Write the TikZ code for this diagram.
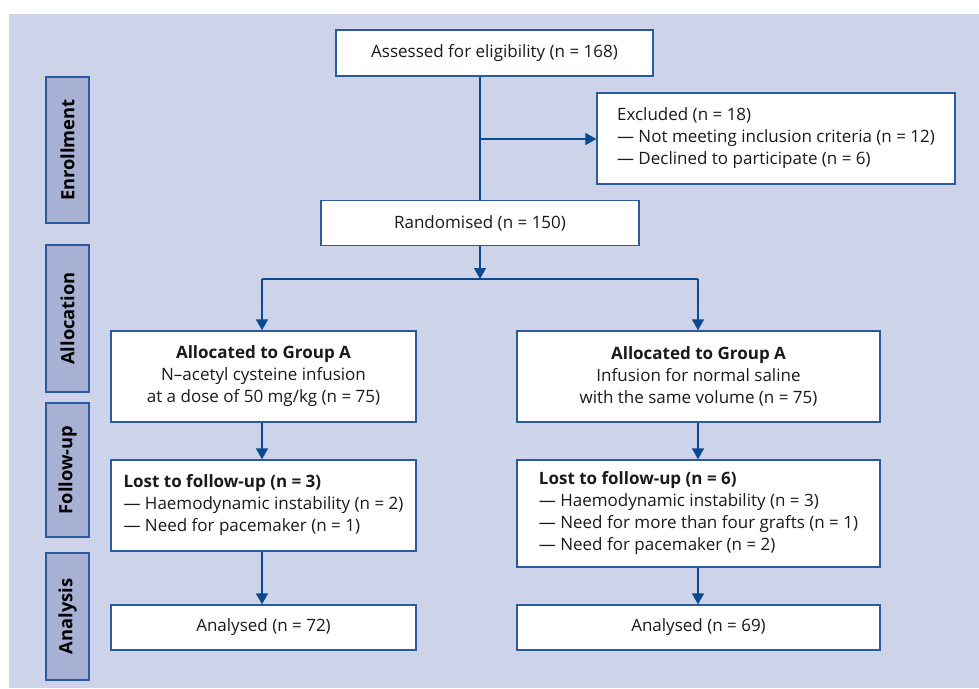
\documentclass[tikz,border=0pt]{standalone}
\usepackage{fontspec}
\setmainfont{Open Sans}
\usetikzlibrary{arrows.meta}
\definecolor{bgc}{HTML}{CDD3E8}
\definecolor{sidec}{HTML}{A8B1D3}
\definecolor{edgec}{HTML}{2B5A9E}
\definecolor{arrc}{HTML}{0B4A91}
\definecolor{txtc}{HTML}{1A1A1A}
\tikzset{
  box/.style={draw=edgec, line width=1.3pt, fill=white, text=txtc, inner sep=0pt,
    font=\fontsize{17}{22}\selectfont, align=center},
  lbox/.style={box, align=left},
  side/.style={draw=edgec, line width=1.3pt, fill=sidec, text=black, rotate=90,
    minimum height=43pt, inner sep=0pt, font=\fontsize{18.3}{20}\selectfont\bfseries},
  conn/.style={draw=arrc, line width=1.4pt},
  arr/.style={conn, -{Triangle[width=12pt,length=11pt]}},
}
\begin{document}
\begin{tikzpicture}[x=1pt,y=-1pt]
\useasboundingbox (0,0) rectangle (979,688);
\fill[bgc] (9,14) rectangle (979,688);
% side labels
\node[side, minimum width=146pt] (sen) at (67.5,150) {Enrollment};
\node[side, minimum width=147pt] (sal) at (67.5,318.5) {Allocation};
\node[side, minimum width=134pt] (sfu) at (67.5,470) {Follow-up};
\node[side, minimum width=127pt] (san) at (67.5,616.5) {Analysis};
% boxes
\node[box, minimum width=317pt, minimum height=46pt] (assess) at (494.5,53) {Assessed for eligibility (n = 168)};
\node[lbox, minimum width=358pt, minimum height=91pt] (excl) at (776,138.5)
  {Excluded (n = 18)\\--- Not meeting inclusion criteria (n = 12)\\--- Declined to participate (n = 6)};
\node[box, minimum width=318pt, minimum height=45pt] (rand) at (480,223) {Randomised (n = 150)};
\node[box, minimum width=305pt, minimum height=91pt] (ga) at (263.5,376.5)
  {\textbf{Allocated to Group A}\\N--acetyl cysteine infusion\\at a dose of 50 mg/kg (n = 75)};
\node[box, minimum width=363pt, minimum height=91pt] (gb) at (698.5,376.5)
  {\textbf{Allocated to Group A}\\Infusion for normal saline\\with the same volume (n = 75)};
\node[lbox, minimum width=305pt, minimum height=91pt] (la) at (263.5,505.5)
  {\textbf{Lost to follow-up (n = 3)}\\--- Haemodynamic instability (n = 2)\\--- Need for pacemaker (n = 1)};
\node[lbox, minimum width=363pt, minimum height=107pt] (lb) at (698.5,513.5)
  {\textbf{Lost to follow-up (n = 6)}\\--- Haemodynamic instability (n = 3)\\--- Need for more than four grafts (n = 1)\\--- Need for pacemaker (n = 2)};
\node[box, minimum width=305pt, minimum height=45pt] (aa) at (263.5,627.5) {Analysed (n = 72)};
\node[box, minimum width=363pt, minimum height=45pt] (ab) at (698.5,627.5) {Analysed (n = 69)};
% connectors
\coordinate (split) at (480,139);
\coordinate (fork) at (480,279);
\coordinate (forkl) at (262,279);
\coordinate (forkr) at (698,279);
\draw[conn] (assess.south -| split) -- (rand.north -| split);
\draw[arr] (split) -- (excl.west |- split);
\draw[arr] (rand.south -| fork) -- (fork);
\draw[conn] (forkl) -- (forkr);
\draw[arr] (forkl) -- (ga.north -| forkl);
\draw[arr] (forkr) -- (gb.north -| forkr);
\draw[arr] (ga.south -| forkl) -- (la.north -| forkl);
\draw[arr] (la.south -| forkl) -- (aa.north -| forkl);
\draw[arr] (gb.south -| forkr) -- (lb.north -| forkr);
\draw[arr] (lb.south -| forkr) -- (ab.north -| forkr);
\end{tikzpicture}
\end{document}
